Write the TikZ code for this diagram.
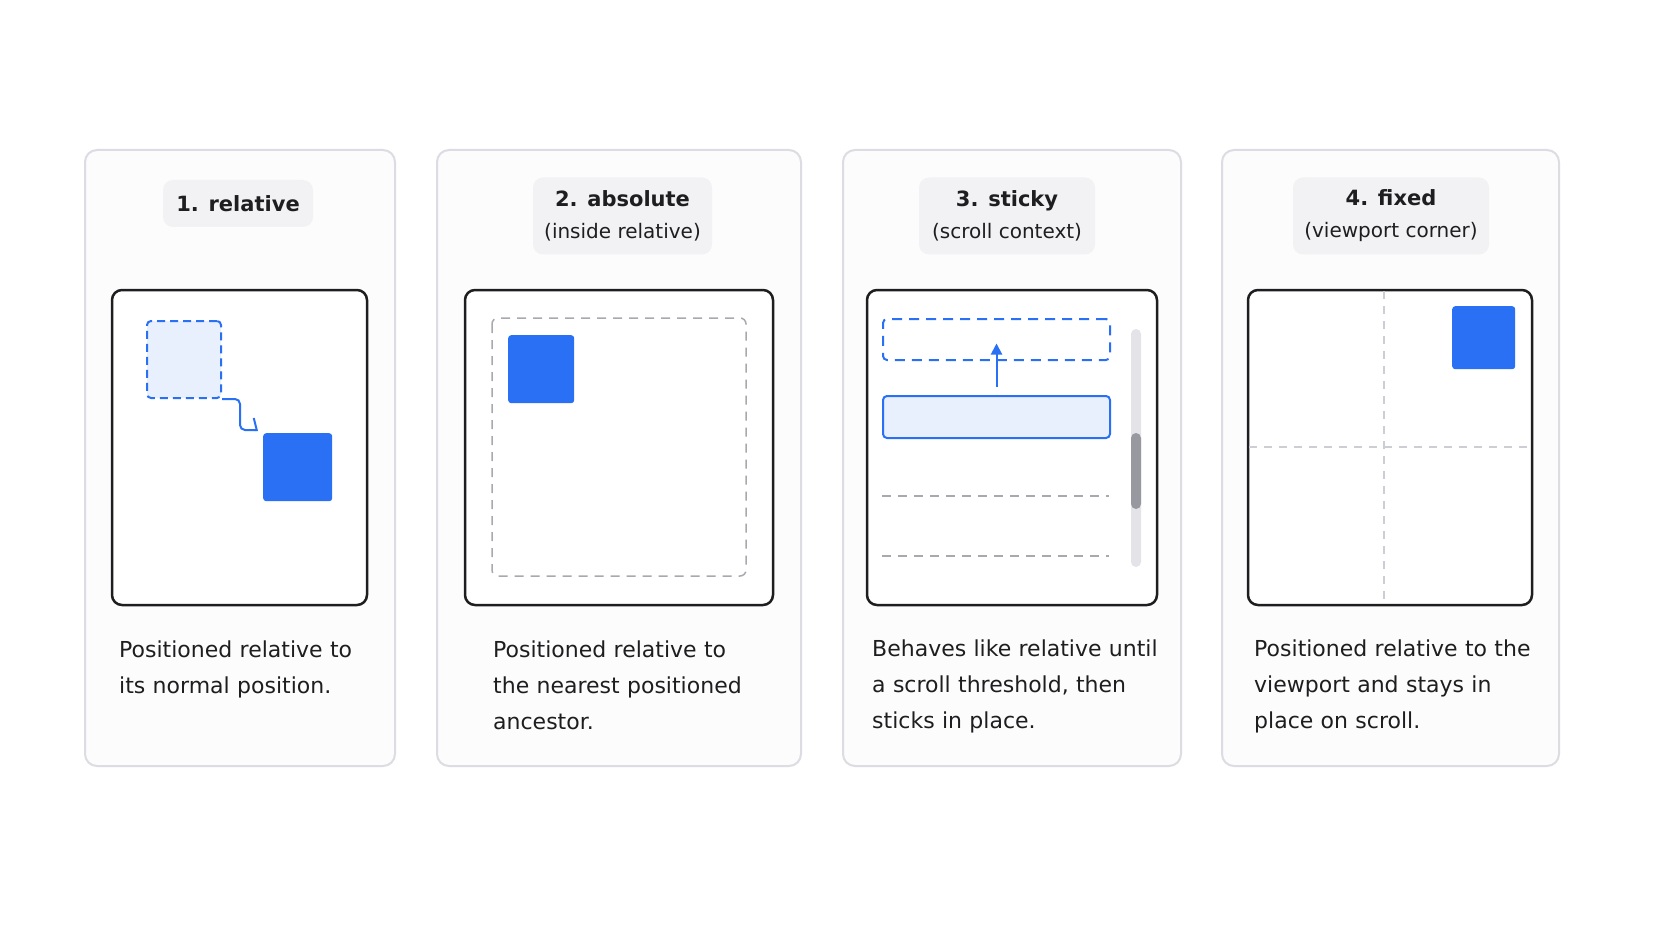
\documentclass[tikz,border=0pt]{standalone}
\usepackage{fontspec}
\setmainfont{DejaVu Sans}
\usetikzlibrary{arrows.meta}
\definecolor{cssblue}{RGB}{41,112,245}
\definecolor{csslight}{RGB}{232,240,254}
\definecolor{cardline}{RGB}{220,220,226}
\definecolor{pillgray}{RGB}{242,242,244}
\definecolor{guide}{RGB}{168,168,176}
\definecolor{guidelight}{RGB}{205,205,212}
\definecolor{track}{RGB}{228,228,232}
\definecolor{thumb}{RGB}{152,152,160}
\definecolor{ink}{RGB}{30,30,32}
\begin{document}
\begin{tikzpicture}[x=1pt,y=-1pt,
    card/.style={draw=cardline,line width=2pt,rounded corners=12pt,fill=black!1},
    pill/.style={fill=pillgray,rounded corners=10pt,inner sep=0pt,align=center,
      text=ink,font=\fontsize{20}{32}\selectfont},
    viewbox/.style={draw=ink,line width=2.5pt,rounded corners=10pt,fill=white},
    desc/.style={text width=330pt,align=left,inner sep=0pt,text=ink,
      font=\fontsize{22}{36}\selectfont},
    solidbox/.style={fill=cssblue,rounded corners=3pt,inner sep=0pt},
    ghostbox/.style={draw=cssblue,fill=csslight,line width=2pt,dash pattern=on 8pt off 5pt,
      rounded corners=4pt,inner sep=0pt},
    guideline/.style={draw=guide,line width=1.5pt,dash pattern=on 9pt off 7pt}]
  \useasboundingbox[fill=white] (0,0) rectangle (1672,941);

  % cards
  \draw[card] (85,150) rectangle (395,766);
  \draw[card] (437,150) rectangle (801,766);
  \draw[card] (843,150) rectangle (1181,766);
  \draw[card] (1222,150) rectangle (1559,766);

  % titles
  \node[pill,minimum width=150pt,minimum height=47pt] (t1) at (238,203.5) {\bfseries\fontsize{21}{32}\selectfont 1. relative};
  \node[pill,minimum width=179pt,minimum height=77pt] (t2) at (622.5,216) {\bfseries\fontsize{21}{32}\selectfont 2. absolute\\(inside relative)};
  \node[pill,minimum width=176pt,minimum height=77pt] (t3) at (1007,216) {\bfseries\fontsize{21}{32}\selectfont 3. sticky\\(scroll context)};
  \node[pill,minimum width=196pt,minimum height=77pt] (t4) at (1391,216) {\bfseries\fontsize{21}{32}\selectfont 4. fixed\\(viewport corner)};

  % 1. relative
  \draw[viewbox] (112,290) rectangle (367,605);
  \node[ghostbox,minimum width=74pt,minimum height=77pt,anchor=north west] (old) at (146,320) {};
  \node[solidbox,minimum width=69pt,minimum height=68pt,anchor=north west] (moved) at (263,433) {};
  \draw[cssblue,line width=2pt,rounded corners=5pt,-{Straight Barb[left,length=3pt,width=24pt]}]
    (old.south east) -- ++(18,0) -- ++(0,31) -- ++(18,0);

  % 2. absolute
  \draw[viewbox] (465,290) rectangle (773,605);
  \draw[guideline,rounded corners=6pt] (492,318) rectangle (746,576);
  \node[solidbox,minimum width=66pt,minimum height=68pt,anchor=north west] (abs) at (508,335) {};

  % 3. sticky
  \draw[viewbox] (867,290) rectangle (1157,605);
  \node[ghostbox,fill=none,dash pattern=on 10pt off 7pt,minimum width=227pt,minimum height=41pt,
    anchor=north west] (slot) at (882,318) {};
  \node[draw=cssblue,fill=csslight,line width=2pt,rounded corners=4pt,inner sep=0pt,
    minimum width=227pt,minimum height=42pt,anchor=north west] (bar) at (882,395) {};
  \draw[cssblue,line width=2pt,-{Triangle[length=11pt,width=11pt]}]
    ([yshift=8pt]bar.north) -- ([yshift=-4pt]slot.center);
  \draw[guideline] (882,496) -- (1109,496);
  \draw[guideline] (882,556) -- (1109,556);
  \fill[track,rounded corners=5pt] (1131,329) rectangle (1141,567);
  \fill[thumb,rounded corners=5pt] (1131,433) rectangle (1141,509);

  % 4. fixed
  \draw[viewbox] (1248,290) rectangle (1532,605);
  \draw[guideline,draw=guidelight,dash pattern=on 8pt off 7pt] (1384,291) -- (1384,604);
  \draw[guideline,draw=guidelight,dash pattern=on 8pt off 7pt] (1249,447) -- (1531,447);
  \node[solidbox,minimum width=63pt,minimum height=63pt,anchor=north west] (fix) at (1452,306) {};

  % descriptions
  \node[desc,anchor=base west] (d1) at (119,657) {Positioned relative to\\its normal position.};
  \node[desc,anchor=base west] (d2) at (493,657) {Positioned relative to\\the nearest positioned\\ancestor.};
  \node[desc,anchor=base west] (d3) at (872,656) {Behaves like relative until\\a scroll threshold, then\\sticks in place.};
  \node[desc,anchor=base west] (d4) at (1254,656) {Positioned relative to the\\viewport and stays in\\place on scroll.};
\end{tikzpicture}
\end{document}
